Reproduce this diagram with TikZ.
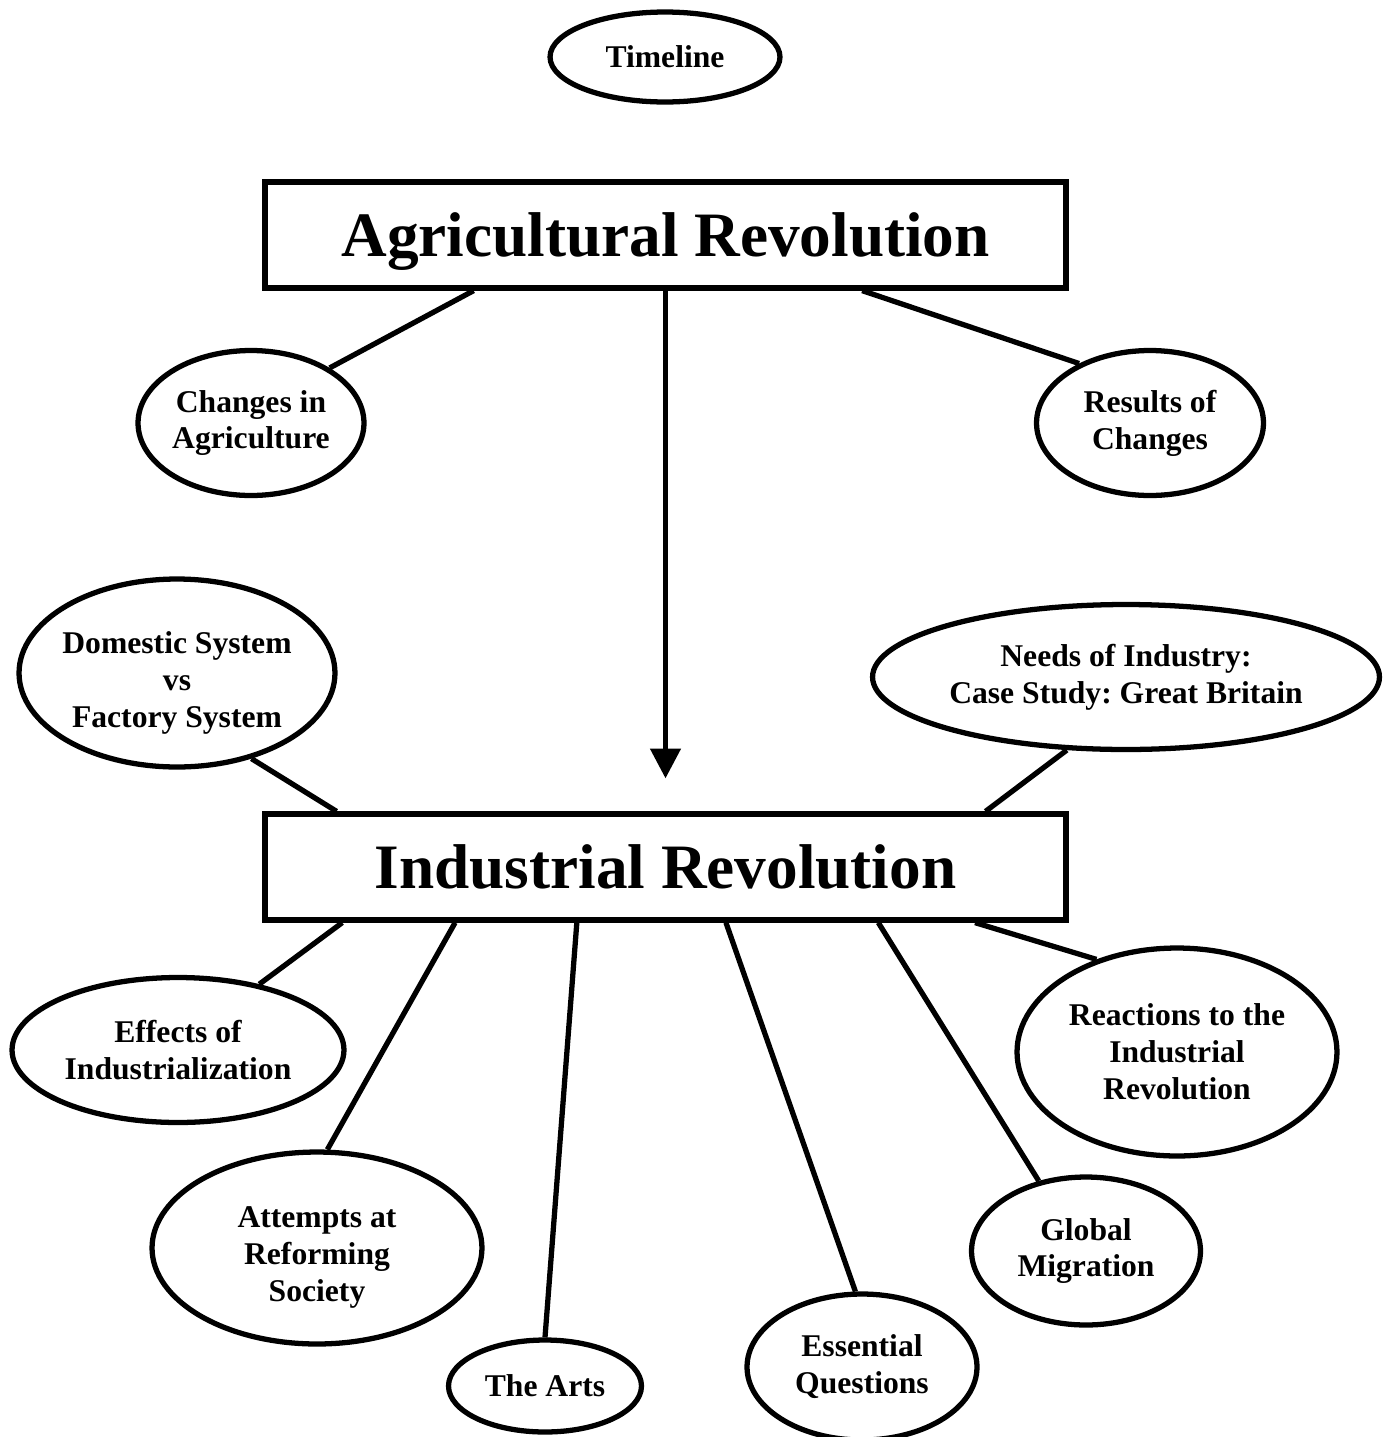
\documentclass[tikz,border=0pt]{standalone}
\usepackage{fontspec}
\setmainfont{Liberation Serif}
\frenchspacing
\usetikzlibrary{arrows.meta,shapes.geometric,calc}

\begin{document}
\begin{tikzpicture}[x=0.02cm,y=-0.02cm,>=Latex,
  words/.style={align=center,inner sep=0pt,font=\fontsize{18}{21}\selectfont\bfseries},
  topic/.style={draw,ellipse,line width=3pt,words},
  era/.style={draw,rectangle,line width=3pt,inner sep=0pt,text depth=0pt,minimum width=16.02cm,minimum height=2.12cm,font=\fontsize{36}{40}\selectfont\bfseries},
  link/.style={line width=3pt}]
  \useasboundingbox (0,0) rectangle (1385,1437);
  % the two revolutions
  \node[era] (agri) at (665.5,235) {Agricultural Revolution};
  \node[era] (indus) at (665.5,867) {Industrial Revolution};
  % topics
  \node[topic,minimum width=4.6cm,minimum height=1.8cm] (timeline) at (665,57) {Timeline};
  \node[topic,minimum width=4.52cm,minimum height=2.9cm] (changes) at (251,423) {Changes in\\Agriculture};
  \node[topic,minimum width=4.54cm,minimum height=2.9cm] (results) at (1150,423) {Results of\\Changes};
  \node[topic,minimum width=6.32cm,minimum height=3.76cm,
    label={[words,yshift=-5.5pt]center:{Domestic System\\vs\\Factory System}}] (domestic) at (177,673) {};
  \node[topic,minimum width=10.14cm,minimum height=2.9cm] (needs) at (1126,677) {Needs of Industry:\\Case Study: Great Britain};
  \node[topic,minimum width=6.64cm,minimum height=2.9cm] (effects) at (178,1050) {Effects of\\Industrialization};
  \node[topic,minimum width=6.6cm,minimum height=3.84cm,
    label={[words,yshift=-5.5pt]center:{Attempts at\\Reforming\\Society}}] (attempts) at (317,1248) {};
  \node[topic,minimum width=3.86cm,minimum height=1.84cm] (arts) at (545,1386) {The Arts};
  \node[topic,minimum width=4.6cm,minimum height=2.92cm] (essential) at (862,1367) {Essential\\Questions};
  \node[topic,minimum width=4.58cm,minimum height=2.96cm] (global) at (1086,1251) {Global\\Migration};
  \node[topic,minimum width=6.4cm,minimum height=4.16cm] (reactions) at (1177,1052) {Reactions to the\\Industrial\\Revolution};
  % connectors
  \draw[link,-{Triangle[length=17pt,width=17pt]},shorten >=0.66cm] (agri.south) -- (indus.north);
  \draw[link] ($(agri.south west)!0.262!(agri.south east)$) -- (changes.35);
  \draw[link] ($(agri.south west)!0.744!(agri.south east)$) -- (results.140);
  \draw[link] (domestic.-49) -- ($(indus.north west)!0.092!(indus.north east)$);
  \draw[link] (needs.-129) -- ($(indus.north west)!0.897!(indus.north east)$);
  \draw[link] ($(indus.south west)!0.099!(indus.south east)$) -- (effects.39);
  \draw[link] ($(indus.south west)!0.239!(indus.south east)$) -- (attempts.84);
  \draw[link] ($(indus.south west)!0.39!(indus.south east)$) -- (arts.90);
  \draw[link] ($(indus.south west)!0.575!(indus.south east)$) -- (essential.95);
  \draw[link] ($(indus.south west)!0.764!(indus.south east)$) -- (global.124);
  \draw[link] ($(indus.south west)!0.884!(indus.south east)$) -- (reactions.131);
\end{tikzpicture}
\end{document}
